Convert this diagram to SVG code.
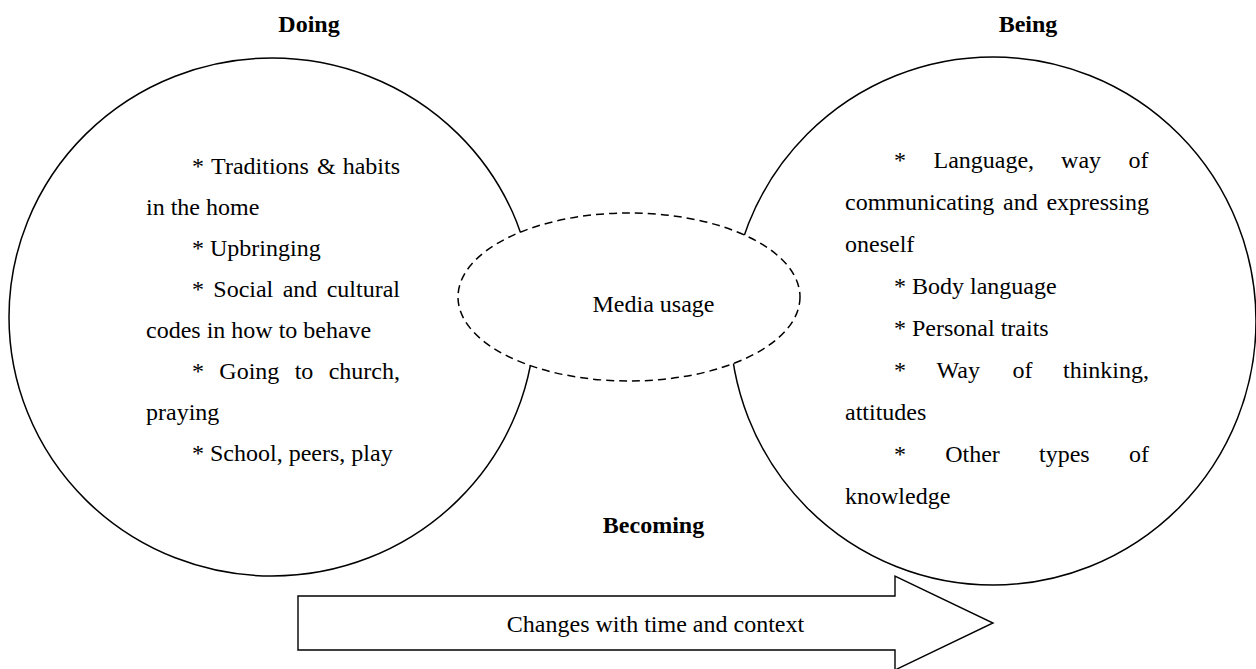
<svg xmlns="http://www.w3.org/2000/svg" width="1256" height="669" viewBox="0 0 1256 669">
<style>
.t{font-family:"Liberation Serif","Times New Roman",serif;font-size:24px;fill:#000}
.h{font-family:"Liberation Serif","Times New Roman",serif;font-size:24px;font-weight:bold;fill:#000;text-anchor:middle}
.m{text-anchor:middle}
.c{fill:#fff;stroke:#000;stroke-width:1.5}
.d{fill:#fff;stroke:#000;stroke-width:1.5;stroke-dasharray:8 5}
.a{fill:#fff;stroke:#000;stroke-width:1.4;stroke-linejoin:miter}
</style>
<rect width="1256" height="669" fill="#fff"/>
<g id="node-doing">
<ellipse class="c" cx="272" cy="317" rx="263" ry="259"/>
<text class="h" x="309" y="32">Doing</text>
<text class="t" y="174"><tspan x="192">*</tspan><tspan x="211.1">Traditions</tspan><tspan x="316.9">&amp;</tspan><tspan x="342.7">habits</tspan></text>
<text class="t" x="146" y="215">in the home</text>
<text class="t" x="192" y="256">* Upbringing</text>
<text class="t" y="297"><tspan x="192">*</tspan><tspan x="213.3">Social</tspan><tspan x="282.7">and</tspan><tspan x="326.7">cultural</tspan></text>
<text class="t" x="146" y="338">codes in how to behave</text>
<text class="t" y="379"><tspan x="192">*</tspan><tspan x="219.3">Going</tspan><tspan x="294.7">to</tspan><tspan x="328.7">church,</tspan></text>
<text class="t" x="146" y="420">praying</text>
<text class="t" x="192" y="461">* School, peers, play</text>
</g>
<g id="node-being">
<ellipse class="c" cx="993" cy="321" rx="263" ry="264"/>
<text class="h" x="1028" y="32">Being</text>
<text class="t" y="168"><tspan x="894">*</tspan><tspan x="933.5">Language,</tspan><tspan x="1061.1">way</tspan><tspan x="1128.6">of</tspan></text>
<text class="t" y="210"><tspan x="845">communicating</tspan><tspan x="1003">and</tspan><tspan x="1046.4">expressing</tspan></text>
<text class="t" x="845" y="252">oneself</text>
<text class="t" x="894" y="294">* Body language</text>
<text class="t" x="894" y="336">* Personal traits</text>
<text class="t" y="378"><tspan x="894">*</tspan><tspan x="936.6">Way</tspan><tspan x="1012.5">of</tspan><tspan x="1063">thinking,</tspan></text>
<text class="t" x="845" y="420">attitudes</text>
<text class="t" y="462"><tspan x="894">*</tspan><tspan x="945.2">Other</tspan><tspan x="1039">types</tspan><tspan x="1128.9">of</tspan></text>
<text class="t" x="845" y="504">knowledge</text>
</g>
<g id="node-media">
<ellipse class="d" cx="629" cy="297" rx="171" ry="84"/>
<text class="t m" x="653.5" y="312">Media usage</text>
</g>
<g id="node-becoming">
<text class="h" x="653.5" y="533">Becoming</text>
</g>
<g id="connectors">
<path class="a" d="M298,596 L895,596 L895,576 L993,623 L895,670 L895,650 L298,650 Z"/>
<text class="t m" x="655.5" y="632">Changes with time and context</text>
</g>
</svg>
